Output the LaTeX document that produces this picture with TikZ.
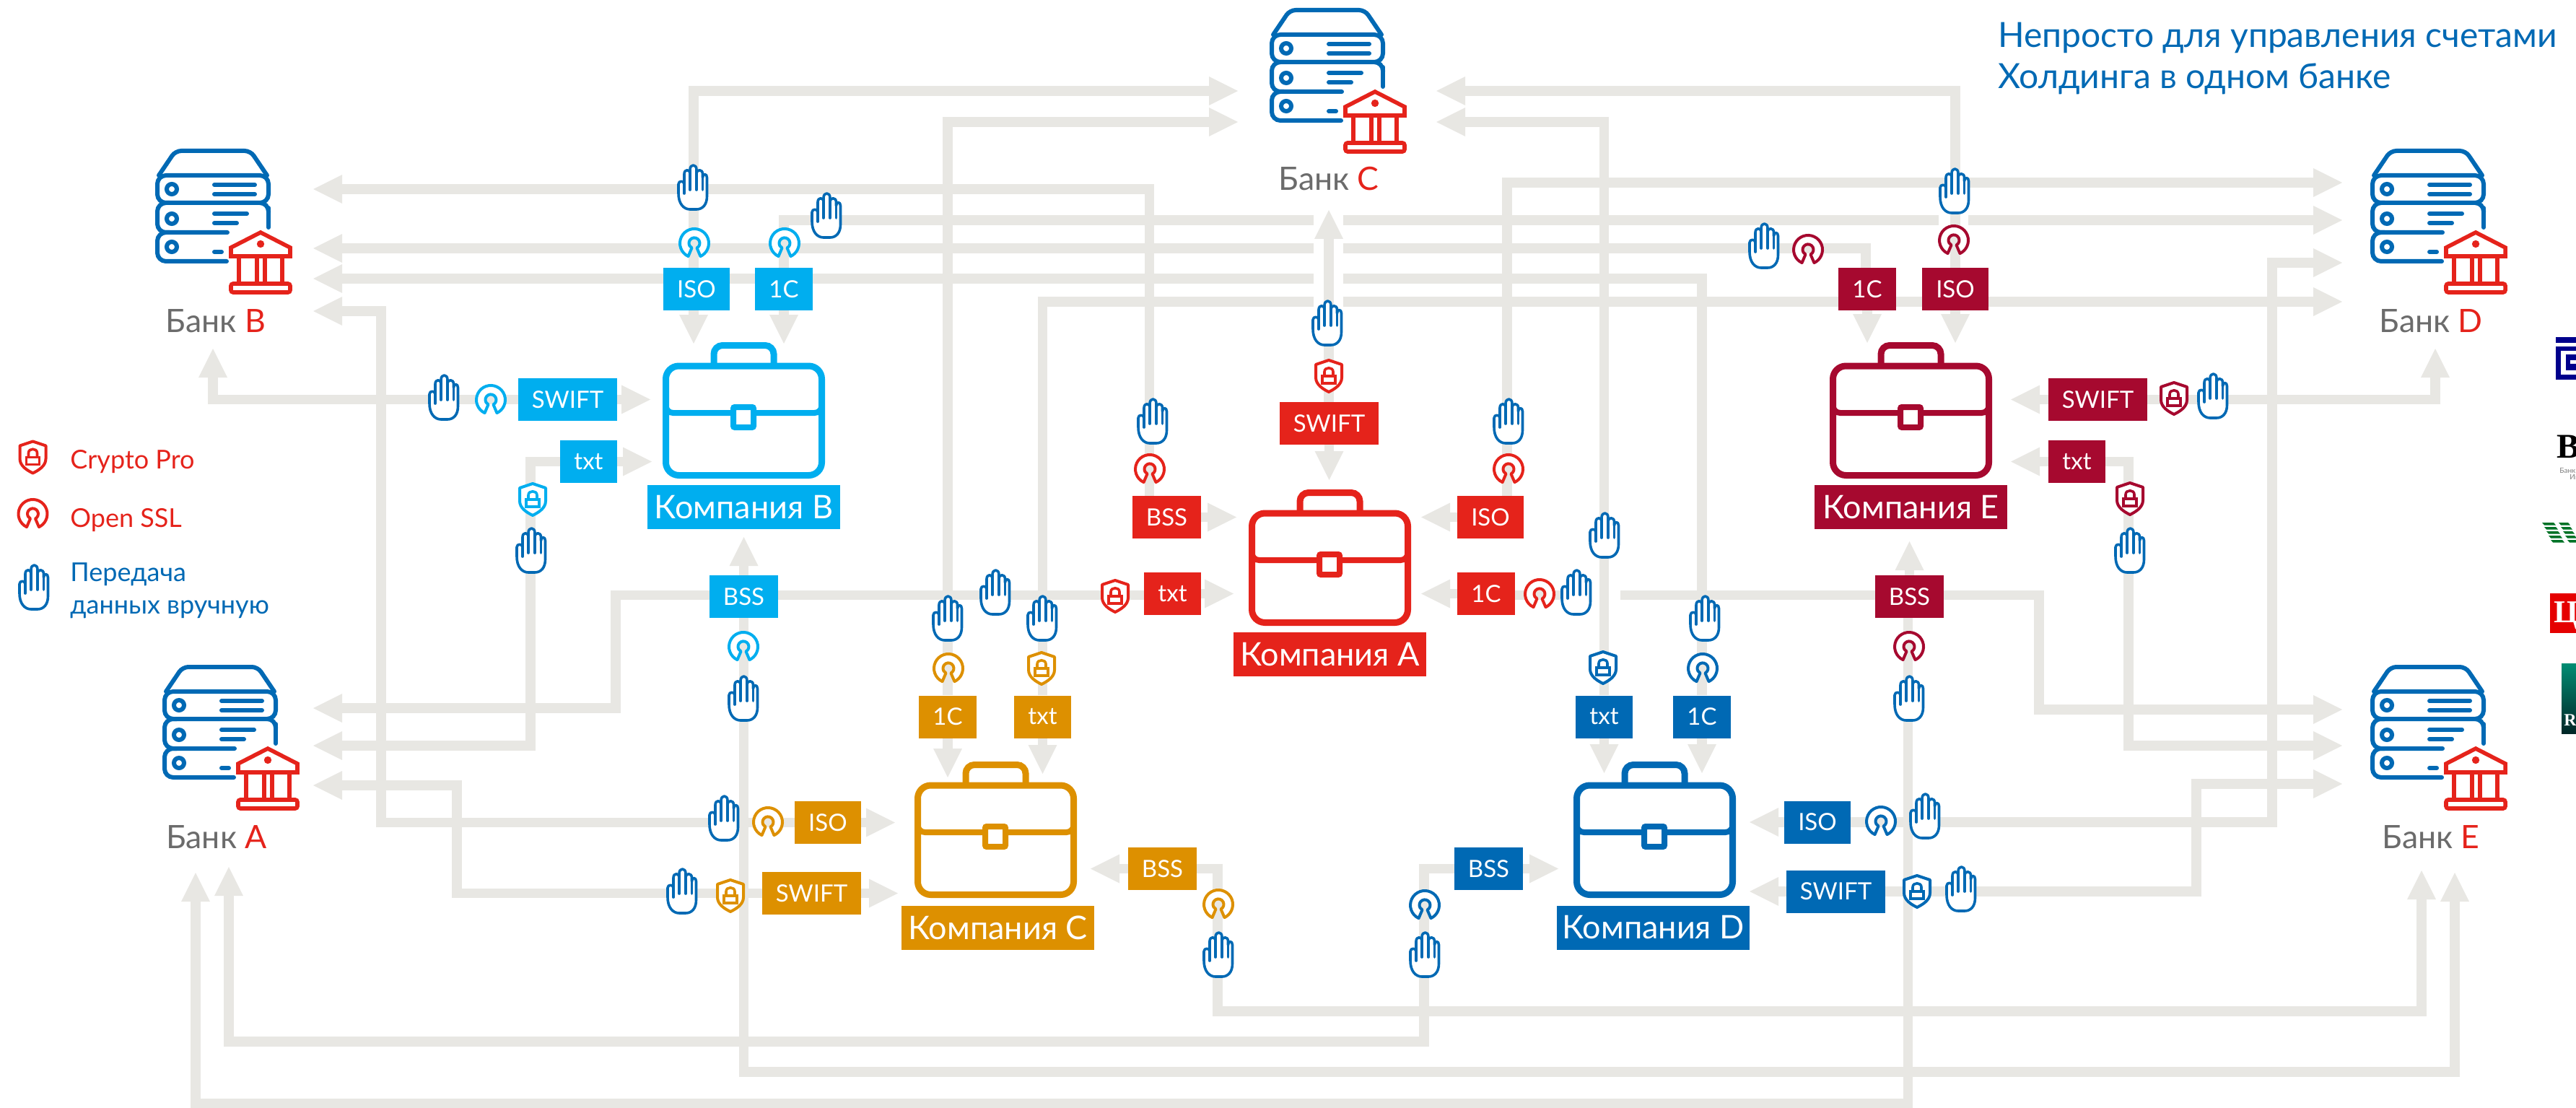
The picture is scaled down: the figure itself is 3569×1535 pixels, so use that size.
\documentclass[tikz,border=0pt]{standalone}
\usepackage{fontspec}
\setmainfont{Lato}
\newfontfamily\logofont{Liberation Serif}
\usetikzlibrary{arrows.meta}
\usetikzlibrary{backgrounds}
\definecolor{flowgray}{HTML}{E8E7E3}
\definecolor{bankgray}{HTML}{6B6B6B}
\definecolor{coA}{HTML}{E5231B}
\definecolor{coB}{HTML}{00AEEF}
\definecolor{coC}{HTML}{DD9000}
\definecolor{coD}{HTML}{0069B4}
\definecolor{coE}{HTML}{A6092F}
\tikzset{
	flow/.style={draw=flowgray, line width=6.75pt, -{Triangle[length=20pt,width=20pt,line width=0pt]}},
	tagbox/.style={fill=#1, text=white, inner sep=0pt, minimum height=29.5pt, font=\fontsize{16.5}{18}\selectfont},
	isotag/.style={tagbox=#1, minimum width=46pt},
	onectag/.style={tagbox=#1, minimum width=40pt},
	txttag/.style={tagbox=#1, minimum width=39.5pt},
	bsstag/.style={tagbox=#1, minimum width=47.5pt},
	swifttag/.style={tagbox=#1, minimum width=68.5pt},
	colabel/.style={fill=#1, text=white, inner sep=0pt, minimum width=133.5pt, minimum height=30.5pt, font=\fontsize{22.5}{24}\selectfont},
	banklabel/.style={anchor=base, text=bankgray, font=\fontsize{22.3}{24}\selectfont},
	legend/.style={anchor=base west, inner sep=0pt, font=\fontsize{18}{20}\selectfont},
	pics/handicon/.style={code={
		\draw[coD, line width=1.8pt, fill=white, line join=round] (-19,8) -- (-19,-5) .. controls (-19,-10) and (-11,-10) .. (-11,-5) -- (-11,-19) .. controls (-11,-26) and (-3,-26) .. (-3,-19) -- (-3,-25) .. controls (-3,-33) and (6,-33) .. (6,-25) -- (6,-19) .. controls (6,-26) and (14.5,-26) .. (14.5,-19) -- (14.5,-14) .. controls (14.5,-20) and (20.5,-20) .. (20.5,-14) -- (20.5,12) .. controls (20.5,24) and (14,30) .. (6,30) -- (-3,30) .. controls (-12,30) and (-19,22) .. (-19,8) -- cycle;
		\draw[coD, line width=1.8pt, line cap=round] (-11,-5) -- (-11,8) (-3,-19) -- (-3,3) (6,-19) -- (6,3) (14.5,-14) -- (14.5,3);
	}},
	pics/shieldicon/.style={code={
		\draw[#1, line width=2pt, fill=white, line join=round] (0,-22) -- (18,-16) -- (18,2) .. controls (18,12) and (8,18) .. (0,22) .. controls (-8,18) and (-18,12) .. (-18,2) -- (-18,-16) -- cycle;
		\draw[#1, line width=1.8pt] (-9,0) rectangle (9,10);
		\draw[#1, line width=1.8pt] (-6,0) -- (-6,-6) .. controls (-6,-13) and (6,-13) .. (6,-6) -- (6,0);
	}},
	pics/sslicon/.style={code={
		\draw[#1, line width=2pt, fill=white, line join=round] (-8.45,18.1) arc[start angle=245, end angle=-65, radius=10pt] -- (3.5,6.5) arc[start angle=-62, end angle=242, radius=3.75pt] -- cycle;
	}},
	pics/caseicon/.style={code={
		\draw[#1, line width=4.5pt, rounded corners=9pt] (4.5,33) rectangle (220.5,184.5);
		\draw[#1, line width=4.5pt, rounded corners=6pt] (71,30) -- (71,4.5) -- (154,4.5) -- (154,30);
		\draw[#1, line width=4pt, rounded corners=5pt] (4.5,70) -- (4.5,98) -- (96,98);
		\draw[#1, line width=4pt, rounded corners=5pt] (128,98) -- (220.5,98) -- (220.5,70);
		\draw[#1, line width=4pt, fill=white, rounded corners=1pt] (98,90) rectangle (126,118);
	}},
	pics/bankicon/.style={code={
		\begin{scope}[coD, line width=3pt, line cap=round]
			\draw[rounded corners=4pt] (5,37) -- (28,3) -- (132,3) -- (155,37);
			\draw[rounded corners=6pt] (3,37) rectangle (157,75);
			\draw[rounded corners=6pt] (145,75) -- (157,75) -- (157,88);
			\draw (157,82) -- (157,109);
			\draw[rounded corners=6pt] (100,116) -- (3,116) -- (3,75) -- (20,75);
			\draw[rounded corners=6pt] (99,156) -- (3,156) -- (3,116) -- (20,116);
			\draw (23,56) circle[radius=3.5pt];
			\draw (23,97) circle[radius=3.5pt];
			\draw (23,136) circle[radius=3.5pt];
			\draw (82,50) -- (138,50);
			\draw (82,63) -- (138,63);
			\draw (82,90) -- (127,90);
			\draw (82,103) -- (113,103);
			\draw (82,143) -- (92,143);
		\end{scope}
		\begin{scope}[coA, line width=2.8pt]
			\draw (105,149) -- (105,137) -- (146,116) -- (187,137) -- (187,149) -- cycle;
			\fill (146,132) circle[radius=2.6pt];
			\draw (116,151) -- (116,185);
			\draw (141,151) -- (141,185);
			\draw (152,151) -- (152,185);
			\draw (176,151) -- (176,185);
			\draw[rounded corners=1.5pt] (105,199) -- (105,187) -- (187,187) -- (187,199) -- cycle;
		\end{scope}
	}},
}

\begin{document}
\begin{tikzpicture}[x=.5pt, y=-.5pt]
	\useasboundingbox (0,0) rectangle (3569,1535);
	%
	\draw (215,206) pic {bankicon};
	\draw (299,460) node[banklabel] (bankBlabel) {Банк {\color{coA}B}};
	\coordinate (bBa) at (434,262);
	\coordinate (bBb) at (434,344);
	\coordinate (bBc) at (434,386);
	\coordinate (bBd) at (434,431);
	\coordinate (bBe) at (295,483);
	%
	\draw (1759,11) pic {bankicon};
	\draw (1841,264) node[banklabel] (bankClabel) {Банк {\color{coA}C}};
	\coordinate (bCa) at (1715,126);
	\coordinate (bCb) at (1715,169);
	\coordinate (bCc) at (1990,126);
	\coordinate (bCd) at (1990,169);
	\coordinate (bCe) at (1841,291);
	%
	\draw (3284,206) pic {bankicon};
	\draw (3368,460) node[banklabel] (bankDlabel) {Банк {\color{coA}D}};
	\coordinate (bDa) at (3245,253);
	\coordinate (bDb) at (3245,305);
	\coordinate (bDc) at (3245,364);
	\coordinate (bDd) at (3245,418);
	\coordinate (bDe) at (3374,483);
	%
	\draw (225,921) pic {bankicon};
	\draw (300,1175) node[banklabel] (bankAlabel) {Банк {\color{coA}A}};
	\coordinate (bAa) at (434,981);
	\coordinate (bAb) at (434,1033);
	\coordinate (bAc) at (434,1088);
	\coordinate (bAd) at (317,1201);
	\coordinate (bAe) at (271,1209);
	%
	\draw (3284,921) pic {bankicon};
	\draw (3368,1175) node[banklabel] (bankElabel) {Банк {\color{coA}E}};
	\coordinate (bEa) at (3245,983);
	\coordinate (bEb) at (3245,1033);
	\coordinate (bEc) at (3245,1086);
	\coordinate (bEd) at (3355,1206);
	\coordinate (bEe) at (3401,1209);
	%
	\draw (918,474) pic {caseicon=coB};
	\draw (918,474) ++ (112.5,228.5) node[colabel=coB] (coBlabel) {Компания B};
	\draw (965,400.5) node[isotag=coB] (isoB) {ISO};
	\draw (1086,400.5) node[onectag=coB] (onecB) {1C};
	\draw (786.5,553.5) node[swifttag=coB] (swiftB) {SWIFT};
	\draw (815.5,639.5) node[txttag=coB] (txtB) {txt};
	\draw (1030.5,826.5) node[bsstag=coB] (bssB) {BSS};
	%
	\draw (1730,678) pic {caseicon=coA};
	\draw (1730,678) ++ (112.5,228.5) node[colabel=coA] (coAlabel) {Компания A};
	\draw (1841.5,586.5) node[swifttag=coA] (swiftA) {SWIFT};
	\draw (1616.5,716.5) node[bsstag=coA] (bssA) {BSS};
	\draw (2065,716.5) node[isotag=coA] (isoA) {ISO};
	\draw (1624.5,822.5) node[txttag=coA] (txtA) {txt};
	\draw (2059,822.5) node[onectag=coA] (onecA) {1C};
	%
	\draw (2535,474) pic {caseicon=coE};
	\draw (2535,474) ++ (112.5,228.5) node[colabel=coE] (coElabel) {Компания E};
	\draw (2587,400.5) node[onectag=coE] (onecE) {1C};
	\draw (2709,400.5) node[isotag=coE] (isoE) {ISO};
	\draw (2906.5,553.5) node[swifttag=coE] (swiftE) {SWIFT};
	\draw (2877.5,639.5) node[txttag=coE] (txtE) {txt};
	\draw (2645.5,826.5) node[bsstag=coE] (bssE) {BSS};
	%
	\draw (1267,1055) pic {caseicon=coC};
	\draw (1267,1055) ++ (115.5,230) node[colabel=coC] (coClabel) {Компания C};
	\draw (1313,993) node[onectag=coC] (onecC) {1C};
	\draw (1444.5,993) node[txttag=coC] (txtC) {txt};
	\draw (1147,1139.5) node[isotag=coC] (isoC) {ISO};
	\draw (1124.5,1237.5) node[swifttag=coC] (swiftC) {SWIFT};
	\draw (1610.5,1203.5) node[bsstag=coC] (bssC) {BSS};
	%
	\draw (2180,1055) pic {caseicon=coD};
	\draw (2180,1055) ++ (110.5,230) node[colabel=coD] (coDlabel) {Компания D};
	\draw (2222.5,993) node[txttag=coD] (txtD) {txt};
	\draw (2358,993) node[onectag=coD] (onecD) {1C};
	\draw (2062.5,1203.5) node[bsstag=coD] (bssD) {BSS};
	\draw (2518,1139) node[isotag=coD] (isoD) {ISO};
	\draw (2543.5,1235) node[swifttag=coD] (swiftD) {SWIFT};
	%
	\begin{scope}[on background layer]
		% to the banks
		\draw[flow] ([xshift=-2pt]isoB.center) |- (bCa);
		\draw[flow] (onecB) |- (bDb);
		\draw[flow] (swiftB) -| (bBe);
		\draw[flow] (txtB) -| (735,1033) -- (bAb);
		\draw[flow] (bssB) |- (3401,1485) -- (bEe);
		\draw[flow] ([xshift=-12pt]bssA.center) |- (bBa);
		\draw[flow] ([xshift=11.5pt]isoA.center) |- (bDa);
		\draw[flow] ([yshift=-1pt]txtA.center) -| (853,981) -- (bAa);
		\draw[flow] ([yshift=-1pt]onecA.center) -| (2825,983) -- (bEa);
		\draw[flow] ([xshift=-1pt]onecE.center) |- (bBb);
		\draw[flow] (swiftE) -| (bDe);
		\draw[flow] (txtE) -| (2949,1033) -- (bEb);
		\draw[flow] ([xshift=-1pt]bssE.center) |- (271,1529) -- (bAe);
		\draw[flow] (onecC) |- (bCb);
		\draw[flow] (txtC) |- (bDd);
		\draw[flow] (isoC) -| (528,431) -- (bBd);
		\draw[flow] (swiftC) -| (633,1088) -- (bAc);
		\draw[flow] (bssC) -| (1687,1401) -- (3355,1401) -- (bEd);
		\draw[flow] (onecD) |- (bBc);
		\draw[flow] (bssD) -| (1973,1443) -- (317,1443) -- (bAd);
		\draw[flow] (isoD) -| (3148,364) -- (bDc);
		\draw[flow] (swiftD) -| (3043,1086) -- (bEc);
		% gaps where a line goes over
		\fill[white] (1820,296) rectangle (1861,428);
		\fill[white] (2686,296) rectangle (2727,314);
		\fill[white] (2205,816) rectangle (2245,834);
		\draw[flow] (bCe |- swiftA) -- (bCe);
		\draw[flow] (isoE) |- (bCc);
		\draw[flow] (txtD) |- (bCd);
		% to the companies
		\draw[flow] (961,400) -- (961,476);
		\draw[flow] (onecB) -- (1086,476);
		\draw[flow] (swiftB) -- (901,553.5);
		\draw[flow] (txtB) -- (903,639.5);
		\draw[flow] (bssB) -- (1030.5,744);
		\draw[flow] (swiftA) -- (1841.5,665);
		\draw[flow] (bssA) -- (1713,716.5);
		\draw[flow] (isoA) -- (1969,716.5);
		\draw[flow] (txtA) -- (1709,822.5);
		\draw[flow] (onecA) -- (1969,822.5);
		\draw[flow] (onecE) -- (2587,475);
		\draw[flow] (isoE) -- (2709,475);
		\draw[flow] (swiftE) -- (2786,553.5);
		\draw[flow] (txtE) -- (2786,639.5);
		\draw[flow] (bssE) -- (2645.5,750);
		\draw[flow] (onecC) -- (1313,1077);
		\draw[flow] (txtC) -- (1444.5,1072);
		\draw[flow] (isoC) -- (1240,1139.5);
		\draw[flow] (swiftC) -- (1244,1237.5);
		\draw[flow] (bssC) -- (1511,1203.5);
		\draw[flow] (txtD) -- (2222.5,1071);
		\draw[flow] (onecD) -- (2358,1071);
		\draw[flow] (bssD) -- (2159,1203.5);
		\draw[flow] (isoD) -- (2424,1139);
		\draw[flow] (swiftD) -- (2424,1235);
	\end{scope}
	%
	\draw (959,260) pic {handicon};
	\draw (1144,299) pic {handicon};
	\draw (614,551) pic {handicon};
	\draw (735,763) pic {handicon};
	\draw (1029,968) pic {handicon};
	\draw (1002,1134) pic {handicon};
	\draw (944,1235) pic {handicon};
	\draw (1838,448) pic {handicon};
	\draw (1596,584) pic {handicon};
	\draw (2089,584) pic {handicon};
	\draw (2222,742) pic {handicon};
	\draw (2183,821) pic {handicon};
	\draw (1378,821) pic {handicon};
	\draw (1312,857) pic {handicon};
	\draw (1443,857) pic {handicon};
	\draw (2361,857) pic {handicon};
	\draw (1687,1323) pic {handicon};
	\draw (1973,1323) pic {handicon};
	\draw (2707,265) pic {handicon};
	\draw (2443,341) pic {handicon};
	\draw (3065,549) pic {handicon};
	\draw (2950,763) pic {handicon};
	\draw (2644,968) pic {handicon};
	\draw (2666,1131) pic {handicon};
	\draw (2716,1232) pic {handicon};
	%
	\draw (962,337) pic {sslicon=coB};
	\draw (1087,337) pic {sslicon=coB};
	\draw (680,554) pic {sslicon=coB};
	\draw (738,692) pic {shieldicon=coB};
	\draw (1030,896) pic {sslicon=coB};
	%
	\draw (1064,1139) pic {sslicon=coC};
	\draw (1012,1241) pic {shieldicon=coC};
	\draw (1314,926) pic {sslicon=coC};
	\draw (1443,926) pic {shieldicon=coC};
	\draw (1688,1253) pic {sslicon=coC};
	%
	\draw (1841,521) pic {shieldicon=coA};
	\draw (1593,650) pic {sslicon=coA};
	\draw (2090,650) pic {sslicon=coA};
	\draw (1545,826) pic {shieldicon=coA};
	\draw (2133,823) pic {sslicon=coA};
	%
	\draw (2221,925) pic {shieldicon=coD};
	\draw (2359,926) pic {sslicon=coD};
	\draw (1974,1254) pic {sslicon=coD};
	\draw (2606,1138) pic {sslicon=coD};
	\draw (2656,1235) pic {shieldicon=coD};
	%
	\draw (2707,333) pic {sslicon=coE};
	\draw (2505,346) pic {sslicon=coE};
	\draw (3012,552) pic {shieldicon=coE};
	\draw (2951,691) pic {shieldicon=coE};
	\draw (2645,896) pic {sslicon=coE};
	% legend
	\draw (45.5,633.5) pic {shieldicon=coA};
	\draw (97,649) node[legend, text=coA] (legendCrypto) {Crypto Pro};
	\draw (45.5,712) pic {sslicon=coA};
	\draw (97,730) node[legend, text=coA] (legendSsl) {Open SSL};
	\draw (46,814) pic {handicon};
	\draw (97,805) node[legend, text=coD] (legendHandA) {Передача};
	\draw (97,850) node[legend, text=coD] (legendHandB) {данных вручную};
	% title
	\draw (2768,66) node[legend, text=coD, font=\fontsize{24}{28}\selectfont] (titleA) {Непросто для управления счетами};
	\draw (2768,123) node[legend, text=coD, font=\fontsize{24}{28}\selectfont] (titleB) {Холдинга в одном банке};
	% logos at the edge
	\fill[blue!55!black] (3541,467) rectangle (3569,475);
	\fill[blue!55!black] (3541,480) rectangle (3569,526);
	\fill[white] (3548,486) rectangle (3569,519);
	\fill[blue!55!black] (3555,491) rectangle (3569,513);
	\fill[white] (3561,499) rectangle (3569,504);
	\draw (3542,634) node[legend, font=\logofont\bfseries\fontsize{24}{24}\selectfont] (logoB) {B};
	\draw (3546,655) node[legend, text=gray, font=\fontsize{5}{6}\selectfont] (logoBa) {Банк};
	\draw (3560,664) node[legend, text=gray, font=\fontsize{5}{6}\selectfont] (logoBb) {Ин};
	\foreach \ys/\xs in {724/0,730/3,736/6,742/9,748/12} {
		\fill[green!35!black!85!cyan] (3522+\xs,\ys) -- (3538+\xs,\ys) -- (3541+\xs,\ys+3.5) -- (3525+\xs,\ys+3.5) -- cycle;
		\fill[green!35!black!85!cyan] (3545+\xs,\ys) -- (3558+\xs,\ys) -- (3561+\xs,\ys+3.5) -- (3548+\xs,\ys+3.5) -- cycle;
	}
	\fill[red!90!black] (3533,822) rectangle (3569,877);
	\draw (3538,862) node[legend, text=white, font=\logofont\bfseries\fontsize{22}{22}\selectfont] (logoR) {Ц};
	\shade[top color=teal!90!green, bottom color=teal!30!black] (3549,919) rectangle (3569,1016);
	\draw (3552,1005) node[legend, text=white, font=\logofont\bfseries\fontsize{12}{12}\selectfont] (logoG) {R};
\end{tikzpicture}
\end{document}
